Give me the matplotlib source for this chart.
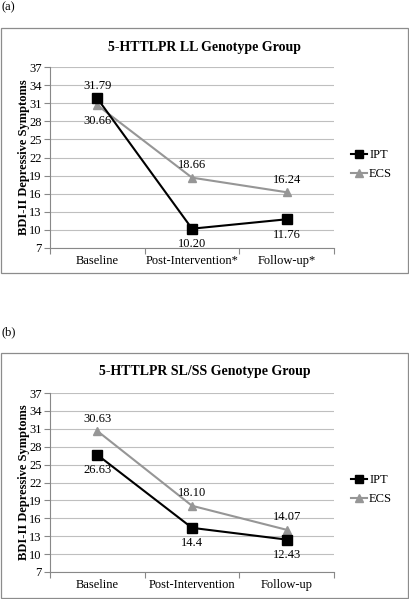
import matplotlib
matplotlib.use("Agg")
import matplotlib.pyplot as plt
from matplotlib.patches import Rectangle

plt.rcParams['font.family'] = ['Liberation Serif', 'DejaVu Serif']

categories_a = ["Baseline", "Post-Intervention*", "Follow-up*"]
categories_b = ["Baseline", "Post-Intervention", "Follow-up"]
ipt_a = [31.79, 10.20, 11.76]
ecs_a = [30.66, 18.66, 16.24]
ipt_a_labels = ["31.79", "10.20", "11.76"]
ecs_a_labels = ["30.66", "18.66", "16.24"]
ipt_b = [26.63, 14.4, 12.43]
ecs_b = [30.63, 18.10, 14.07]
ipt_b_labels = ["26.63", "14.4", "12.43"]
ecs_b_labels = ["30.63", "18.10", "14.07"]
yticks = [7, 10, 13, 16, 19, 22, 25, 28, 31, 34, 37]

W, H = 409, 599
fig = plt.figure(figsize=(W / 100, H / 100), dpi=100)

GRAY = "#969696"


def px_axes(x0, y0, x1, y1):
    return fig.add_axes([x0 / W, 1 - y1 / H, (x1 - x0) / W, (y1 - y0) / H])


def box(x0, y0, x1, y1):
    fig.patches.append(Rectangle((x0 / W, 1 - y1 / H), (x1 - x0) / W, (y1 - y0) / H,
                                 transform=fig.transFigure, fill=False,
                                 edgecolor="#8c8c8c", linewidth=0.9))


def panel(ax, cats, ipt, ecs, ipt_lab, ecs_lab, ipt_pos, ecs_pos, title, title_y):
    x = [0.5, 1.5, 2.5]
    ax.set_xlim(0, 3)
    ax.set_ylim(7, 37)
    ax.set_yticks(yticks)
    ax.set_yticklabels([str(t) for t in yticks], fontsize=9)
    ax.set_xticks([0, 1, 2, 3])
    ax.set_xticklabels([])
    ax.set_xticks(x, minor=True)
    ax.set_xticklabels(cats, minor=True, fontsize=9)
    ax.tick_params(axis='x', which='minor', length=0, pad=5)
    ax.tick_params(axis='x', which='major', length=4, color="#888888", direction='out')
    ax.tick_params(axis='y', length=4, color="#888888", pad=2)
    for s in ["top", "right"]:
        ax.spines[s].set_visible(False)
    ax.spines["left"].set_color("#888888")
    ax.spines["bottom"].set_color("#888888")
    ax.grid(axis='y', color="#bfbfbf", linewidth=0.8)
    ax.set_axisbelow(True)
    ax.plot(x, ecs, color=GRAY, marker='^', markersize=6, linewidth=1.5, label="ECS", zorder=3)
    ax.plot(x, ipt, color="black", marker='s', markersize=6.5, linewidth=1.5, label="IPT", zorder=4)
    for xi, v, lab, pos in zip(x, ipt, ipt_lab, ipt_pos):
        off = 9 if pos == "above" else -11
        ax.annotate(lab, (xi, v), xytext=(0, off), textcoords="offset points",
                    ha="center", va="center", fontsize=9)
    for xi, v, lab, pos in zip(x, ecs, ecs_lab, ecs_pos):
        off = 9 if pos == "above" else -11
        ax.annotate(lab, (xi, v), xytext=(0, off), textcoords="offset points",
                    ha="center", va="center", fontsize=9)
    ax.set_ylabel("BDI-II Depressive Symptoms", fontsize=9, fontweight="bold", labelpad=-1)
    handles, labels = ax.get_legend_handles_labels()
    ax.legend(handles[::-1], labels[::-1], loc="center left", bbox_to_anchor=(1.02, 0.46),
              frameon=False, fontsize=9, handlelength=1.3, handletextpad=0.15,
              labelspacing=0.6, markerscale=0.9)
    fig.text(0.5, 1 - title_y / H, title, ha="center", va="center",
             fontsize=10, fontweight="bold")


box(1, 28, 408, 273)
box(1, 353, 408, 598)
fig.text(2 / W, 1 - 7 / H, "(a)", ha="left", va="center", fontsize=9)
fig.text(2 / W, 1 - 332 / H, "(b)", ha="left", va="center", fontsize=9)

ax1 = px_axes(50, 67, 334, 248)
panel(ax1, categories_a, ipt_a, ecs_a, ipt_a_labels, ecs_a_labels,
      ["above", "below", "below"], ["below", "above", "above"],
      "5-HTTLPR LL Genotype Group", 47)

ax2 = px_axes(50, 393, 334, 572)
panel(ax2, categories_b, ipt_b, ecs_b, ipt_b_labels, ecs_b_labels,
      ["below", "below", "below"], ["above", "above", "above"],
      "5-HTTLPR SL/SS Genotype Group", 371)

fig.savefig("out.png", dpi=100)
